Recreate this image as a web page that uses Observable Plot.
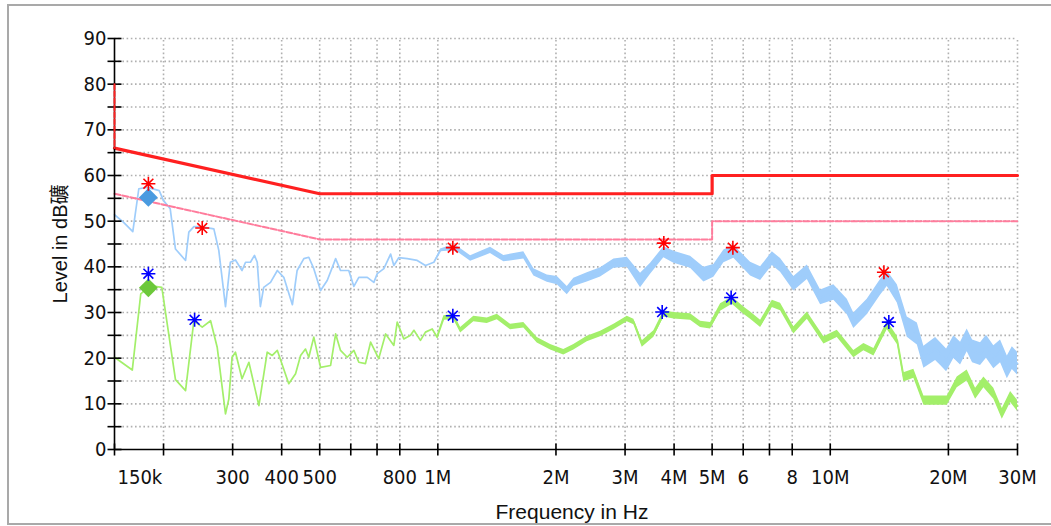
<!DOCTYPE html>
<html>
<head>
<meta charset="utf-8">
<script src="https://cdn.jsdelivr.net/npm/d3@7"></script>
<script src="https://cdn.jsdelivr.net/npm/@observablehq/plot@0.6"></script>
<style>
  html, body { margin: 0; padding: 0; background: #fff; }
  #wrap { position: relative; width: 1051px; height: 526px; overflow: hidden; background: #fff; }
  #wrap svg { position: absolute; left: 0; top: 0; }
  #frame { position: absolute; left: 7px; top: 4px; width: 1060px; height: 517px;
           border-left: 2px solid #a9a9a9; border-top: 2px solid #a9a9a9; border-bottom: 2px solid #a9a9a9; }
  #below { position: absolute; left: 0; top: 525px; width: 1051px; height: 1px; background: #fff; }
</style>
</head>
<body>
<div id="wrap"><div id="frame"></div><div id="below"></div></div>
<script>
// ---- data (frequency in MHz, level in dB) ----
const peakFreq = [0.150,0.158,0.167,0.173,0.182,0.195,0.200,0.208,0.2145,0.2276,0.232,0.239,0.248,0.2687,0.2766,0.2877,0.296,0.305,0.317,0.3236,0.333,0.341,0.3466,0.353,0.360,0.3747,0.390,0.405,0.426,0.438,0.4556,0.469,0.483,0.5025,0.5225,0.543,0.549,0.565,0.593,0.611,0.629,0.661,0.687,0.701,0.7286,0.758,0.7725,0.795,0.836,0.886,0.930,0.977,1.016,1.057,1.121,1.212,1.362,1.473,1.656,1.757,1.900,2.016,2.137,2.221,2.403,2.598,2.810,3.039,3.285,3.484,3.766,3.995,4.405,4.764,5.051,5.357,5.680,6.265,6.645,7.118,7.47,8.076,8.74,9.45,10.21,11.05,11.48,12.42,13.43,13.97,14.82,15.71,16.67,17.32,18.55,19.11,19.79,20.65,21.48,22.33,23.05,24.15,25.0,26.11,27.16,28.26,29.1,30.0];
const peakLevel = [51.4,49.8,47.7,57.1,57.4,56.7,54.5,52.7,43.9,41.4,47.6,48.8,48.8,48.3,43.6,31.3,41.0,41.5,39.2,41.0,41.0,42.5,41.0,31.3,35.5,36.6,39.2,37.7,31.7,39.2,41.8,42.1,39.6,34.8,37.0,40.7,41.8,39.2,39.2,35.7,37.7,37.7,36.6,38.5,39.6,42.8,40.3,42.0,41.8,41.4,40.3,41.0,43.6,43.9,43.9,41.8,43.6,41.8,42.5,38.8,37.4,37.0,34.8,36.6,37.7,38.8,40.7,41.0,37.0,39.6,43.2,42.1,41.0,38.3,39.1,42.3,43.3,39.5,38.5,41.8,40.3,36.3,38.8,33.3,34.4,31.2,28.2,31.2,35.5,37.4,34.1,26.8,25.3,20.2,22.0,20.9,19.5,22.4,21.0,23.9,21.5,20.9,22.5,20.2,21.5,18.0,20.0,18.8];
const peakSpread = [0,0,0,0,0,0,0,0,0,0,0,0,0,0,0,0,0,0,0,0,0,0,0,0,0,0,0,0,0,0,0,0,0,0,0,0,0,0,0,0,0,0,0,0,0,0,0,0,0,0,0,0,0.3,0.5,0.6,0.6,0.7,0.7,0.8,0.8,0.8,0.9,0.9,0.9,1.0,1.0,1.0,1.1,1.6,1.2,1.2,1.3,1.3,1.6,1.4,1.4,1.4,1.5,1.5,1.5,1.5,1.6,1.6,1.6,1.7,1.7,1.7,1.7,1.7,1.7,2.0,2.2,2.4,2.4,2.5,2.5,2.5,2.5,2.5,2.5,2.5,2.5,2.5,2.5,2.5,2.5,2.5,2.5];

const avgFreq = [0.150,0.1665,0.175,0.185,0.198,0.2145,0.2276,0.239,0.251,0.2636,0.274,0.2877,0.2934,0.299,0.305,0.317,0.330,0.350,0.3675,0.3785,0.390,0.417,0.434,0.447,0.460,0.469,0.483,0.5025,0.533,0.549,0.565,0.5876,0.611,0.629,0.654,0.674,0.707,0.736,0.7725,0.788,0.819,0.852,0.869,0.903,0.930,0.9675,0.996,1.036,1.098,1.143,1.235,1.336,1.417,1.532,1.656,1.792,1.938,2.094,2.221,2.403,2.598,2.810,3.039,3.159,3.318,3.552,3.766,3.995,4.405,4.671,4.954,5.254,5.627,6.023,6.265,6.645,7.118,7.47,8.076,8.74,9.635,10.42,11.48,12.18,12.92,13.97,14.82,15.40,16.33,17.32,19.86,21.06,22.33,23.46,24.63,26.11,27.44,28.81,30.0];
const avgLevel = [20.2,17.4,34.1,35.9,35.5,15.3,12.9,28.2,26.8,28.2,22.4,7.8,11.1,20.2,21.3,15.5,19.1,9.6,21.3,20.6,21.7,14.4,16.6,20.6,22.0,20.2,24.6,18.0,18.4,25.3,21.7,20.2,21.7,19.1,18.8,23.5,19.9,25.3,22.8,27.9,24.2,25.0,26.1,23.9,25.7,26.4,24.6,28.8,29.0,26.1,28.6,28.2,29.0,26.8,27.2,23.9,22.4,21.3,22.4,24.2,25.3,26.8,28.6,27.9,23.1,25.3,29.7,29.3,29.0,27.4,27.1,31.1,32.6,30.4,29.3,27.5,31.9,31.2,26.1,29.3,23.9,25.3,20.9,22.4,21.3,27.2,23.9,15.8,16.6,10.7,10.7,14.7,16.2,12.2,14.7,12.2,7.8,11.5,9.6];
const avgSpread = [0,0,0,0,0,0,0,0,0,0,0,0,0,0,0,0,0,0,0,0,0,0,0,0,0,0,0,0,0,0,0,0,0,0,0,0,0,0,0,0,0,0,0,0,0,0,0.3,0.5,0.6,0.6,0.6,0.6,0.6,0.6,0.6,0.6,0.6,0.6,0.6,0.6,0.6,0.6,0.6,0.6,0.7,0.7,0.7,0.7,0.7,0.7,0.7,0.8,0.8,0.8,0.8,0.8,0.8,0.8,0.8,0.8,0.8,0.8,0.8,0.8,0.8,0.9,0.9,1.0,1.0,1.0,1.0,1.2,1.2,1.2,1.2,1.2,1.2,1.2,1.2];

// limit lines
const qpLimitFreq = [0.15, 0.5, 5, 5, 30];
const qpLimitLevel = [66, 56, 56, 60, 60];
const qpStartFreq = [0.15, 0.15];
const qpStartLevel = [80, 66];
const avLimitFreq = [0.15, 0.5, 5, 5, 30];
const avLimitLevel = [56, 46, 46, 50, 50];

// final measurement markers
const qpMarkFreq = [0.183, 0.251, 1.092, 3.766, 5.647, 13.70];
const qpMarkLevel = [58.2, 48.5, 44.2, 45.2, 44.2, 38.8];
const avMarkFreq = [0.183, 0.240, 1.092, 3.73, 5.59, 14.1];
const avMarkLevel = [38.5, 28.4, 29.3, 30.1, 33.3, 27.9];
const peakDiamondFreq = [0.183];
const peakDiamondLevel = [55.2];
const avgDiamondFreq = [0.183];
const avgDiamondLevel = [35.4];

// ticks
const xTicks = [0.15,0.2,0.3,0.4,0.5,0.6,0.7,0.8,1,2,3,4,5,6,7,8,10,20,30];
const xTickLabelValues = [0.3,0.4,0.5,0.8,1,2,3,4,5,6,8,10,20,30];
const xTickLabelTexts = ["300","400","500","800","1M","2M","3M","4M","5M","6","8","10M","20M","30M"];
const firstXLabel = "150k";
const yTicks = d3.range(0, 91, 5);
const yLabelTicks = d3.range(0, 91, 10);

// ---- build tables ----
const peak = peakFreq.map((f, i) => ({f, v: peakLevel[i], s: peakSpread[i]}));
const avg = avgFreq.map((f, i) => ({f, v: avgLevel[i], s: avgSpread[i]}));
const zip = (a, b) => a.map((f, i) => ({f, v: b[i]}));

const star8 = {
  draw(ctx, size) {
    const r = Math.sqrt(size / Math.PI);
    for (const a of [0, Math.PI / 4, Math.PI / 2, 3 * Math.PI / 4]) {
      ctx.moveTo(r * Math.cos(a), r * Math.sin(a));
      ctx.lineTo(-r * Math.cos(a), -r * Math.sin(a));
    }
  }
};
const hTick = {draw(ctx) { ctx.moveTo(-7, 0); ctx.lineTo(7, 0); }};
const vTick = {draw(ctx) { ctx.moveTo(0, -6); ctx.lineTo(0, 6); }};

const tickFont = "'Liberation Sans Narrow', 'DejaVu Sans Condensed', 'Liberation Sans', sans-serif";
const grid = {stroke: "#b0b0b0", strokeWidth: 1.6, strokeDasharray: "1.6,2.6"};

const chart = Plot.plot({
  width: 1051,
  height: 526,
  marginLeft: 114,
  marginRight: 34,
  marginTop: 38,
  marginBottom: 77,
  style: {background: "transparent", fontFamily: "'Liberation Sans', Arial, sans-serif"},
  x: {type: "log", domain: [0.15, 30], axis: null},
  y: {domain: [0, 90], axis: null},
  marks: [
    Plot.ruleY(yTicks.filter(d => d > 0), {...grid}),
    Plot.ruleX(xTicks.filter(d => d > 0.15), {y1: 0, y2: 90, ...grid}),
    // traces
    Plot.areaY(peak, {x: "f", y1: d => d.v - d.s, y2: d => d.v + d.s, fill: "#9fcdfb"}),
    Plot.line(peak, {x: "f", y: "v", stroke: "#9fcdfb", strokeWidth: 1.7}),
    Plot.areaY(avg, {x: "f", y1: d => d.v - d.s, y2: d => d.v + d.s, fill: "#a3ef6a"}),
    Plot.line(avg, {x: "f", y: "v", stroke: "#a3ef6a", strokeWidth: 1.7}),
    // limits
    Plot.line(zip(avLimitFreq, avLimitLevel), {x: "f", y: "v", stroke: "#ff7c9c", strokeWidth: 2, strokeDasharray: "6,2"}),
    Plot.line(zip(qpLimitFreq, qpLimitLevel), {x: "f", y: "v", stroke: "#ff2020", strokeWidth: 3.2}),
    // axes
    Plot.ruleX([0.15], {y1: 0, y2: 90, stroke: "#000", strokeWidth: 1.6}),
    Plot.ruleY([0], {stroke: "#000", strokeWidth: 1.6}),
    Plot.dot(yTicks, {x: () => 0.15, y: d => d, symbol: hTick, stroke: "#000", strokeWidth: 1.6}),
    Plot.dot(xTicks, {x: d => d, y: () => 0, symbol: vTick, stroke: "#000", strokeWidth: 1.6}),
    Plot.line(zip(qpStartFreq, qpStartLevel), {x: "f", y: "v", stroke: "#ff2222", strokeWidth: 2, strokeDasharray: "5,2"}),
    Plot.text(yLabelTicks, {x: () => 0.15, y: d => d, text: d => String(d), textAnchor: "end", dx: -8,
      fontSize: 20, fontFamily: tickFont, fill: "#111", style: "letter-spacing:2px"}),
    Plot.text(xTickLabelValues, {x: d => d, y: () => 0, text: (d, i) => xTickLabelTexts[i], dy: 28,
      fontSize: 20, fontFamily: tickFont, fill: "#111"}),
    Plot.text([firstXLabel], {x: () => 0.15, y: () => 0, text: d => d, dy: 28, dx: 3, textAnchor: "start",
      fontSize: 20, fontFamily: tickFont, fill: "#111"}),
    // markers
    Plot.dot(zip(peakDiamondFreq, peakDiamondLevel), {x: "f", y: "v", symbol: "diamond2", r: 8.5, fill: "#4a9be0"}),
    Plot.dot(zip(avgDiamondFreq, avgDiamondLevel), {x: "f", y: "v", symbol: "diamond2", r: 8.5, fill: "#6cc83a"}),
    Plot.dot(zip(qpMarkFreq, qpMarkLevel), {x: "f", y: "v", symbol: star8, r: 7, stroke: "#ff0000", strokeWidth: 1.6}),
    Plot.dot(zip(avMarkFreq, avMarkLevel), {x: "f", y: "v", symbol: star8, r: 7, stroke: "#0000ff", strokeWidth: 1.6}),
    // titles
    Plot.text(["Level in dB礦"], {frameAnchor: "left", textAnchor: "middle", rotate: -90, dx: -54, dy: 0, fontSize: 20, fill: "#111",
      fontFamily: "'Liberation Sans', 'Noto Sans CJK SC', sans-serif"}),
    Plot.text(["Frequency in Hz"], {frameAnchor: "bottom", textAnchor: "middle", dx: 6, dy: 69, fontSize: 21, fill: "#111",
      fontFamily: "'Liberation Sans', Arial, sans-serif"})
  ]
});
document.getElementById("wrap").prepend(chart);
</script>
</body>
</html>
